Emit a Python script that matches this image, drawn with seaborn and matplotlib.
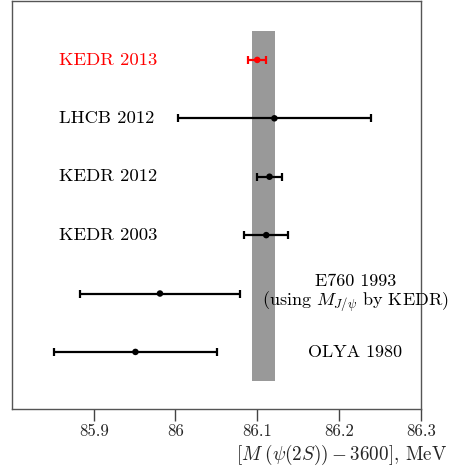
import numpy as np
import pandas as pd
import matplotlib
matplotlib.use("Agg")
import matplotlib.pyplot as plt
import seaborn as sns

# measurements, top to bottom
labels = ["KEDR 2013", "LHCB 2012", "KEDR 2012", "KEDR 2003",
          "E760 1993\n(using $M_{J/\\psi}$ by KEDR)", "OLYA 1980"]
mass = [86.100, 86.121, 86.115, 86.111, 85.981, 85.951]
err = [0.011, 0.118, 0.015, 0.027, 0.098, 0.100]
colors = ["red", "black", "black", "black", "black", "black"]
label_side = ["left", "left", "left", "left", "right", "right"]

# average band
band_center = 86.108
band_half = 0.014

ticks = [85.9, 86.0, 86.1, 86.2, 86.3]
tick_labels = ["85.9", "86", "86.1", "86.2", "86.3"]

sns.set_style("ticks")
plt.rcParams["font.family"] = ["cmr10"]
plt.rcParams["mathtext.fontset"] = "cm"
plt.rcParams["axes.unicode_minus"] = False
plt.rcParams["axes.formatter.use_mathtext"] = True

df = pd.DataFrame({"label": labels, "mass": mass, "err": err, "color": colors,
                   "side": label_side})
df["y"] = np.arange(len(df))[::-1] + 1

fig = plt.figure(figsize=(4.51, 4.66), dpi=100)
ax = fig.add_axes([0.0266, 0.122, 0.9063, 0.876])

ax.fill_betweenx([0.5, 6.5], band_center - band_half, band_center + band_half,
                 color="#999999", lw=0, zorder=1)

for _, r in df.iterrows():
    ax.errorbar(r["mass"], r["y"], xerr=r["err"], fmt="none", ecolor=r["color"],
                elinewidth=1.6, capsize=3, capthick=1.6, zorder=2)
    if r["side"] == "left":
        ax.text(85.857, r["y"], r["label"], color=r["color"], fontsize=13.4,
                ha="left", va="center")
    else:
        ax.text(86.22, r["y"], r["label"], color=r["color"], fontsize=13,
                ha="center", va="center", multialignment="center", linespacing=1.05)

sns.scatterplot(data=df, x="mass", y="y", hue="label",
                palette=dict(zip(df["label"], df["color"])),
                s=22, edgecolor="none", legend=False, zorder=3, ax=ax)

ax.set_xlim(85.8, 86.3)
ax.set_ylim(0.02, 7.01)
ax.set_xticks(ticks)
ax.set_xticklabels(tick_labels, fontsize=12)
ax.set_yticks([])
ax.tick_params(axis="x", direction="out", length=8.5, width=1, color="#444444", pad=2)
for s in ax.spines.values():
    s.set_color("#555555")
    s.set_linewidth(1)

ax.set_xlabel(r"$[M\;(\psi(2S))-3600]$, MeV", fontsize=13.8, loc="right")
ax.xaxis.set_label_coords(1.065, -0.082)
ax.set_ylabel("")

fig.savefig("out.png", dpi=100)
